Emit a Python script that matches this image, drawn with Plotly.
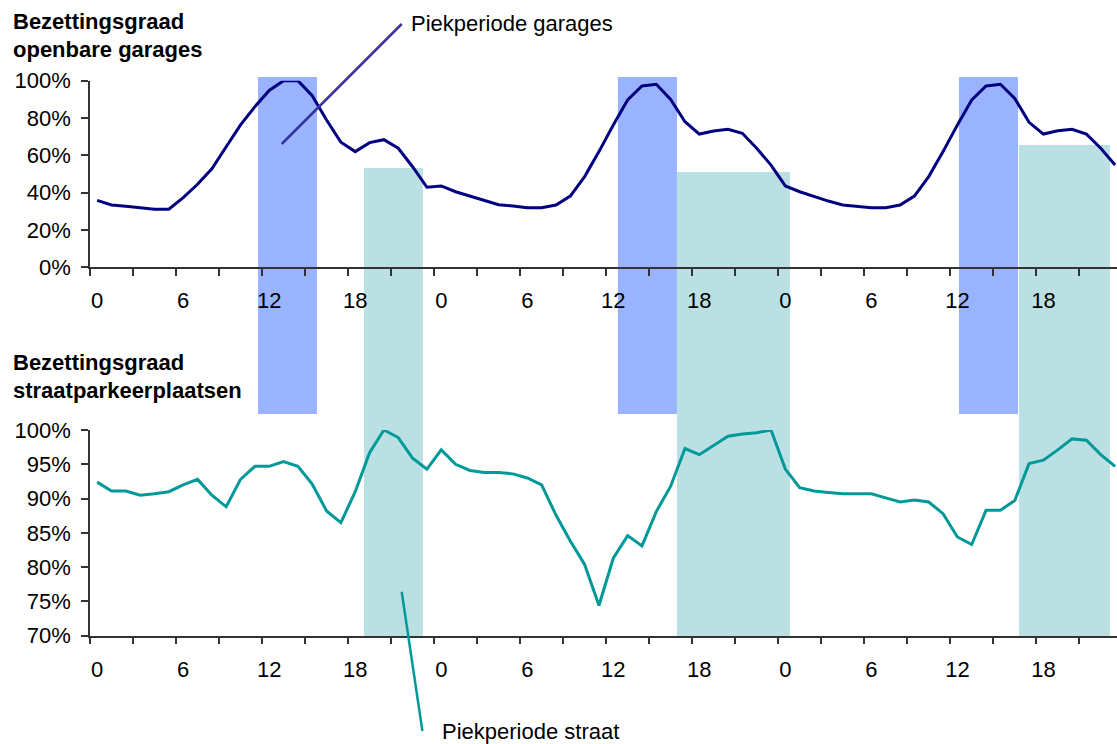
import plotly.graph_objects as go

# Hour index over three consecutive days
hours = list(range(72))
tick_hours = list(range(0, 72, 6))
tick_text = ["0", "6", "12", "18"] * 3

# Occupancy of public garages (fraction)
garages = [
    0.359, 0.334, 0.327, 0.319, 0.311, 0.311, 0.373, 0.445, 0.528, 0.646,
    0.763, 0.861, 0.948, 1.000, 1.000, 0.920, 0.789, 0.670, 0.620, 0.668,
    0.684, 0.638, 0.539, 0.429, 0.436, 0.405, 0.382, 0.361, 0.335, 0.329,
    0.319, 0.319, 0.334, 0.382, 0.486, 0.620, 0.763, 0.897, 0.972, 0.981,
    0.900, 0.780, 0.714, 0.730, 0.740, 0.718, 0.638, 0.548, 0.436, 0.405,
    0.378, 0.355, 0.334, 0.325, 0.319, 0.319, 0.334, 0.382, 0.486, 0.620,
    0.763, 0.897, 0.972, 0.981, 0.905, 0.777, 0.714, 0.732, 0.740, 0.714,
    0.638, 0.548,
]

# Occupancy of on-street parking (fraction)
straat = [
    0.924, 0.911, 0.911, 0.905, 0.907, 0.910, 0.920, 0.928, 0.905, 0.888,
    0.928, 0.947, 0.947, 0.954, 0.947, 0.921, 0.882, 0.865, 0.910, 0.967,
    1.000, 0.989, 0.959, 0.943, 0.971, 0.950, 0.941, 0.938, 0.938, 0.936,
    0.930, 0.920, 0.876, 0.838, 0.804, 0.744, 0.813, 0.846, 0.831, 0.881,
    0.918, 0.973, 0.964, 0.977, 0.991, 0.994, 0.996, 1.000, 0.943, 0.916,
    0.911, 0.909, 0.907, 0.907, 0.907, 0.901, 0.895, 0.898, 0.895, 0.878,
    0.844, 0.833, 0.883, 0.883, 0.897, 0.951, 0.956, 0.971, 0.987, 0.985,
    0.964, 0.947,
]

# Peak periods (start hour, end hour)
garage_peaks = [(11.22, 15.33), (36.32, 40.44), (60.11, 64.23)]
street_peaks = [(18.61, 22.72), (40.44, 48.32), (64.30, 70.64)]
# Level reached by the street-peak bands on the garage scale
street_peak_tops = [0.532, 0.511, 0.655]

W, H = 1117, 744
FONT = "Arial, Liberation Sans, sans-serif"
FS = 22


def py(pix):
    """Vertical pixel position -> paper coordinate."""
    return 1 - pix / H


def px(pix):
    return pix / W


top_dom = [py(267.3), py(80.7)]
bot_dom = [py(635.7), py(430.0)]
x_dom = [px(90), 1.0]
x_range = [-0.5, -0.5 + (W - 90) / 14.337]

fig = go.Figure()
fig.add_trace(go.Scatter(
    x=hours, y=garages, mode="lines", xaxis="x", yaxis="y",
    line=dict(color="#000080", width=3), cliponaxis=False, showlegend=False,
))
fig.add_trace(go.Scatter(
    x=hours, y=straat, mode="lines", xaxis="x2", yaxis="y2",
    line=dict(color="#009999", width=3), cliponaxis=False, showlegend=False,
))

shapes = []
for x0, x1 in garage_peaks:
    shapes.append(dict(type="rect", xref="x", yref="paper", x0=x0, x1=x1,
                       y0=py(414), y1=py(77), fillcolor="#99B3FF",
                       line=dict(width=0), layer="below"))
for (x0, x1), top in zip(street_peaks, street_peak_tops):
    shapes.append(dict(type="rect", xref="x", yref="paper", x0=x0, x1=x1,
                       y0=py(636), y1=top_dom[0] + top * (top_dom[1] - top_dom[0]),
                       fillcolor="#BBE0E3", line=dict(width=0), layer="below"))

# Leader lines for the two callouts
shapes.append(dict(type="line", xref="paper", yref="paper",
                   x0=px(281.7), y0=py(144), x1=px(401.7), y1=py(24),
                   line=dict(color="#333399", width=2.5)))
shapes.append(dict(type="line", xref="paper", yref="paper",
                   x0=px(401.7), y0=py(591.7), x1=px(422.4), y1=py(731),
                   line=dict(color="#009999", width=2.5)))

annotations = []
titles = [
    ("Bezettingsgraad", 21.5), ("openbare garages", 49.5),
    ("Bezettingsgraad", 362.5), ("straatparkeerplaatsen", 390.8),
]
for text, ypix in titles:
    annotations.append(dict(text=f"<b>{text}</b>", xref="paper", yref="paper",
                            x=px(11), y=py(ypix), xanchor="left", yanchor="middle",
                            showarrow=False, font=dict(family=FONT, size=FS, color="#000")))
annotations.append(dict(text="Piekperiode garages", xref="paper", yref="paper",
                        x=px(409), y=py(24), xanchor="left", yanchor="middle",
                        showarrow=False, font=dict(family=FONT, size=FS, color="#000")))
annotations.append(dict(text="Piekperiode straat", xref="paper", yref="paper",
                        x=px(440), y=py(731), xanchor="left", yanchor="middle",
                        showarrow=False, font=dict(family=FONT, size=FS, color="#000")))

xaxis_common = dict(
    range=x_range, domain=x_dom, showgrid=False, zeroline=False, automargin=False,
    showline=True, linecolor="#333", linewidth=1.5,
    tickmode="array", tickvals=tick_hours, ticktext=tick_text, ticks="",
    ticklabelstandoff=13,
    tickfont=dict(family=FONT, size=FS, color="#000"),
    minor=dict(tickmode="linear", tick0=-0.5, dtick=3, ticks="outside",
               ticklen=7, tickwidth=1.5, tickcolor="#333"),
)
yaxis_common = dict(
    showgrid=False, zeroline=False, automargin=False,
    showline=True, linecolor="#333", linewidth=1.5,
    ticks="outside", ticklen=7, tickwidth=1.5, tickcolor="#333",
    tickformat=".0%", ticklabelstandoff=6,
    tickfont=dict(family=FONT, size=FS, color="#000"),
)

fig.update_layout(
    width=W, height=H,
    margin=dict(l=0, r=0, t=0, b=0, autoexpand=False),
    paper_bgcolor="white", plot_bgcolor="rgba(0,0,0,0)",
    xaxis=dict(**xaxis_common, anchor="y"),
    xaxis2=dict(**xaxis_common, anchor="y2"),
    yaxis=dict(**yaxis_common, domain=top_dom, range=[0, 1], dtick=0.2, anchor="x"),
    yaxis2=dict(**yaxis_common, domain=bot_dom, range=[0.70, 1.00], dtick=0.05, anchor="x2"),
    shapes=shapes,
    annotations=annotations,
)

fig.write_html("out.html")
